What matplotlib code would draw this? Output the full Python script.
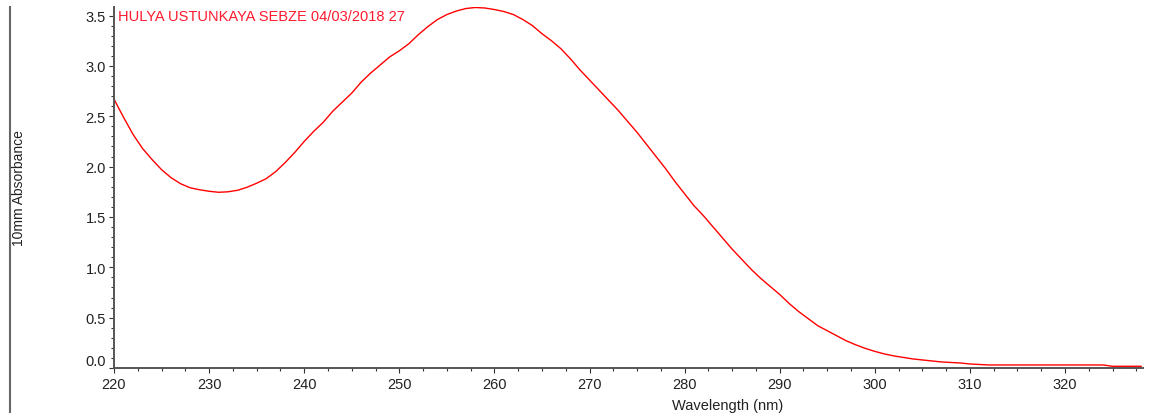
import numpy as np
import matplotlib.pyplot as plt
from matplotlib.ticker import MultipleLocator
from matplotlib.lines import Line2D

# wavelength (nm) and absorbance
wavelength = [220, 221, 222, 223, 224, 225, 226, 227, 228, 229,
              230, 231, 232, 233, 234, 235, 236, 237, 238, 239,
              240, 241, 242, 243, 244, 245, 246, 247, 248, 249,
              250, 251, 252, 253, 254, 255, 256, 257, 258, 259,
              260, 261, 262, 263, 264, 265, 266, 267, 268, 269,
              270, 271, 272, 273, 274, 275, 276, 277, 278, 279,
              280, 281, 282, 283, 284, 285, 286, 287, 288, 289,
              290, 291, 292, 293, 294, 295, 296, 297, 298, 299,
              300, 301, 302, 303, 304, 305, 306, 307, 308, 309,
              310, 311, 312, 314, 316, 318, 320, 322, 324, 325,
              326, 328]
absorbance = [2.67, 2.49, 2.32, 2.18, 2.07, 1.97, 1.89, 1.83, 1.79, 1.77,
              1.755, 1.745, 1.75, 1.765, 1.795, 1.835, 1.88, 1.95, 2.04, 2.14,
              2.25, 2.35, 2.44, 2.55, 2.64, 2.73, 2.84, 2.93, 3.01, 3.09,
              3.15, 3.22, 3.31, 3.39, 3.46, 3.51, 3.545, 3.57, 3.58, 3.575,
              3.56, 3.54, 3.51, 3.46, 3.40, 3.32, 3.25, 3.17, 3.07, 2.96,
              2.86, 2.76, 2.66, 2.56, 2.45, 2.34, 2.22, 2.10, 1.98, 1.85,
              1.73, 1.61, 1.51, 1.40, 1.29, 1.18, 1.08, 0.98, 0.89, 0.81,
              0.73, 0.64, 0.56, 0.49, 0.42, 0.37, 0.32, 0.27, 0.23, 0.195,
              0.165, 0.14, 0.12, 0.105, 0.09, 0.08, 0.07, 0.06, 0.055, 0.05,
              0.04, 0.035, 0.03, 0.03, 0.03, 0.03, 0.03, 0.03, 0.03, 0.017,
              0.017, 0.017]

title_text = "HULYA USTUNKAYA SEBZE 04/03/2018 27"
x_ticks = [220, 230, 240, 250, 260, 270, 280, 290, 300, 310, 320]
y_ticks = [0.0, 0.5, 1.0, 1.5, 2.0, 2.5, 3.0, 3.5]

plt.rcParams['font.family'] = ['Liberation Sans', 'DejaVu Sans']

fig = plt.figure(figsize=(11.6, 4.14), dpi=100)
ax = fig.add_axes([114 / 1160, 45 / 414, (1143 - 114) / 1160, (369 - 8) / 414])

ax.plot(wavelength, absorbance, color='#ff0000', linewidth=1.0)

ax.set_xlim(220, 328.2)
ax.set_ylim(0, 3.585)
ax.set_xticks(x_ticks)
ax.set_yticks(y_ticks)
ax.set_yticklabels(["%.1f" % v for v in y_ticks])
ax.xaxis.set_minor_locator(MultipleLocator(2.5))
ax.yaxis.set_minor_locator(MultipleLocator(0.1))

for side in ['top', 'right']:
    ax.spines[side].set_visible(False)
for side in ['left', 'bottom']:
    ax.spines[side].set_color('#555555')
    ax.spines[side].set_linewidth(1.4)

ax.tick_params(which='major', length=3.8, width=0.8, color='#333333',
               labelsize=10.5, labelcolor='#222222')
ax.tick_params(which='minor', length=2.0, width=0.8, color='#333333')
ax.tick_params(axis='x', pad=2.5)
ax.tick_params(axis='y', pad=2.0)

# bottom label is pushed up so it stays above the axis line
ax.yaxis.get_major_ticks()[0].label1.set_verticalalignment('bottom')

ax.text(118 / 1160, 397 / 414, title_text, transform=fig.transFigure,
        color='#ff1a2e', fontsize=10.5, va='center', ha='left')

fig.text(19 / 1160, 1 - 188 / 414, "10mm Absorbance", rotation=90,
         ha='center', va='center', fontsize=10, color='#222222')
fig.text(728 / 1160, 1 - 406 / 414, "Wavelength (nm)",
         ha='center', va='center', fontsize=10.5, color='#222222')

# frame line on the left edge
fig.add_artist(Line2D([9.5 / 1160, 9.5 / 1160], [0, 1 - 8 / 414],
                      transform=fig.transFigure, color='#666666', linewidth=1.5))

fig.savefig('out.png', dpi=100)
